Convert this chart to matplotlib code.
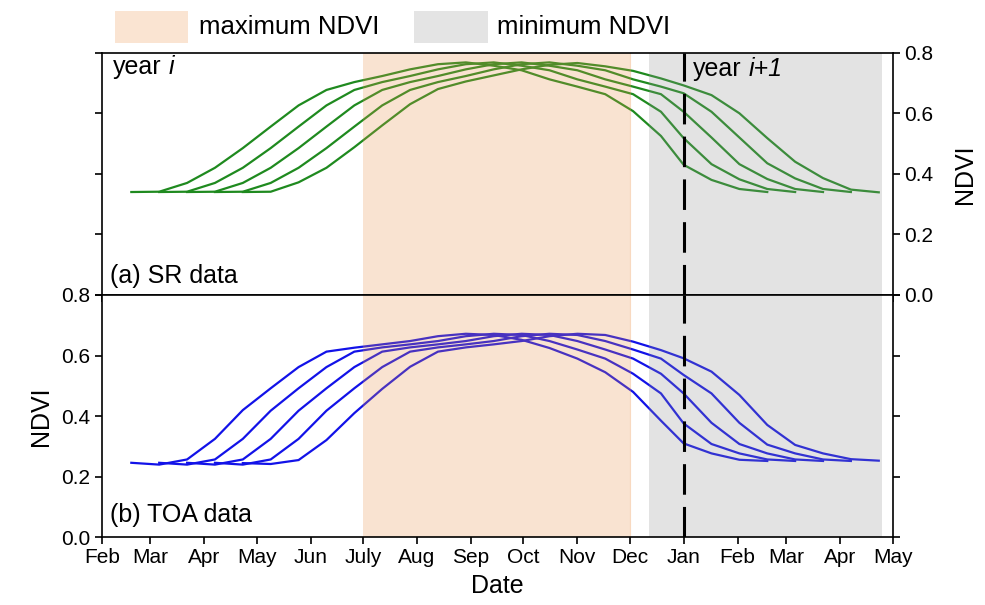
import datetime as dt
import matplotlib
matplotlib.use("Agg")
import matplotlib.pyplot as plt
import matplotlib.dates as mdates
from matplotlib.patches import Rectangle

plt.rcParams['font.family'] = ['Liberation Sans', 'DejaVu Sans']

# ---------------- data ----------------
year_i = 2001
# 16-day composite days of year (year i, then year i+1)
doy_year_i = [49, 65, 81, 97, 113, 129, 145, 161, 177, 193, 209, 225,
              241, 257, 273, 289, 305, 321, 337, 353]
doy_year_i1 = [1, 17, 33, 49, 65, 81, 97, 113]

# index of the first composite of each curve
curve_start = [0, 1, 2, 3, 4]

sr_curve_1 = [0.340, 0.341, 0.370, 0.420, 0.485, 0.556, 0.626, 0.677, 0.703, 0.723, 0.745, 0.762,
              0.768, 0.757, 0.742, 0.712, 0.688, 0.663, 0.607, 0.525, 0.430, 0.380, 0.350, 0.340]
sr_curve_2 = [0.340, 0.341, 0.370, 0.420, 0.485, 0.556, 0.626, 0.677, 0.703, 0.723, 0.745, 0.762,
              0.768, 0.757, 0.742, 0.712, 0.688, 0.663, 0.605, 0.518, 0.432, 0.382, 0.350, 0.340]
sr_curve_3 = [0.340, 0.341, 0.370, 0.420, 0.485, 0.556, 0.626, 0.677, 0.703, 0.723, 0.745, 0.762,
              0.768, 0.757, 0.742, 0.712, 0.688, 0.663, 0.605, 0.520, 0.432, 0.383, 0.350, 0.340]
sr_curve_4 = [0.340, 0.341, 0.370, 0.420, 0.485, 0.556, 0.626, 0.677, 0.703, 0.723, 0.745, 0.762,
              0.768, 0.757, 0.742, 0.712, 0.688, 0.666, 0.605, 0.520, 0.435, 0.385, 0.350, 0.340]
sr_curve_5 = [0.340, 0.341, 0.372, 0.420, 0.488, 0.560, 0.630, 0.680, 0.705, 0.725, 0.745, 0.760,
              0.766, 0.755, 0.740, 0.715, 0.692, 0.660, 0.600, 0.518, 0.440, 0.386, 0.348, 0.339]
sr_curves = [sr_curve_1, sr_curve_2, sr_curve_3, sr_curve_4, sr_curve_5]

toa_curve_1 = [0.246, 0.240, 0.257, 0.325, 0.420, 0.492, 0.562, 0.613, 0.626, 0.637, 0.648, 0.664,
               0.672, 0.668, 0.652, 0.625, 0.590, 0.545, 0.480, 0.385, 0.310, 0.277, 0.256, 0.252]
toa_curve_2 = [0.246, 0.240, 0.257, 0.325, 0.418, 0.492, 0.562, 0.613, 0.627, 0.637, 0.648, 0.664,
               0.672, 0.668, 0.648, 0.620, 0.590, 0.540, 0.475, 0.376, 0.308, 0.277, 0.257, 0.252]
toa_curve_3 = [0.246, 0.240, 0.257, 0.325, 0.418, 0.492, 0.562, 0.613, 0.627, 0.637, 0.648, 0.664,
               0.672, 0.668, 0.648, 0.620, 0.590, 0.540, 0.475, 0.378, 0.308, 0.277, 0.257, 0.252]
toa_curve_4 = [0.246, 0.240, 0.257, 0.325, 0.418, 0.492, 0.562, 0.613, 0.627, 0.637, 0.648, 0.664,
               0.672, 0.668, 0.648, 0.620, 0.590, 0.536, 0.475, 0.378, 0.306, 0.277, 0.257, 0.252]
toa_curve_5 = [0.245, 0.242, 0.255, 0.321, 0.410, 0.490, 0.563, 0.613, 0.627, 0.637, 0.648, 0.664,
               0.672, 0.668, 0.646, 0.618, 0.591, 0.547, 0.470, 0.371, 0.305, 0.277, 0.258, 0.253]
toa_curves = [toa_curve_1, toa_curve_2, toa_curve_3, toa_curve_4, toa_curve_5]

month_labels = ['Feb', 'Mar', 'Apr', 'May', 'Jun', 'July', 'Aug', 'Sep', 'Oct',
                'Nov', 'Dec', 'Jan', 'Feb', 'Mar', 'Apr', 'May']
max_ndvi_period = (dt.date(2001, 7, 1), dt.date(2001, 12, 1))
min_ndvi_period = (dt.date(2001, 12, 12), dt.date(2002, 4, 25))
year_boundary = dt.date(2002, 1, 1)
x_range = (dt.date(2001, 2, 1), dt.date(2002, 5, 1))
ndvi_ticks = [0.0, 0.2, 0.4, 0.6, 0.8]

# ---------------- derived ----------------
node_dates = ([dt.date(year_i, 1, 1) + dt.timedelta(days=d - 1) for d in doy_year_i] +
              [dt.date(year_i + 1, 1, 1) + dt.timedelta(days=d - 1) for d in doy_year_i1])
node_x = mdates.date2num(node_dates)

tick_dates = []
yy, mm = year_i, 2
for _ in month_labels:
    tick_dates.append(dt.date(yy, mm, 1))
    mm += 1
    if mm > 12:
        mm = 1
        yy += 1
tick_x = mdates.date2num(tick_dates)

GREEN = '#1f8a1f'
BLUE = '#1212e8'
ORANGE_OV = '#EB934B'
GRAY_OV = '#939393'
ALPHA = 0.25

W, H = 985, 605
fig = plt.figure(figsize=(W / 100, H / 100), dpi=100)

left = 101.7 / W
width = 791.0 / W
hgt = 242.3 / H
ax1 = fig.add_axes([left, 1 - 295.0 / H, width, hgt])
ax2 = fig.add_axes([left, 1 - 537.3 / H, width, hgt])

for ax, curves, col in ((ax1, sr_curves, GREEN), (ax2, toa_curves, BLUE)):
    for s, vals in zip(curve_start, curves):
        ax.plot(node_x[s:s + len(vals)], vals, color=col, lw=1.6, zorder=2,
                solid_joinstyle='miter')
    ax.axvspan(mdates.date2num(max_ndvi_period[0]), mdates.date2num(max_ndvi_period[1]),
               color=ORANGE_OV, alpha=ALPHA, lw=0, zorder=3)
    ax.axvline(mdates.date2num(max_ndvi_period[1]), color=ORANGE_OV, alpha=0.35, lw=0.8, zorder=3)
    ax.axvspan(mdates.date2num(min_ndvi_period[0]), mdates.date2num(min_ndvi_period[1]),
               color=GRAY_OV, alpha=ALPHA, lw=0, zorder=3)
    ax.axvline(mdates.date2num(year_boundary), color='black', lw=2.2,
               dashes=(10, 4), zorder=4)
    ax.set_xlim(mdates.date2num(x_range[0]), mdates.date2num(x_range[1]))
    ax.set_ylim(0, 0.8)
    ax.set_yticks(ndvi_ticks)
    ax.set_yticklabels([f'{v:.1f}' for v in ndvi_ticks])
    ax.set_xticks(tick_x)
    ax.set_xticklabels(month_labels)
    ax.tick_params(direction='out', length=5, width=1.2, labelsize=15, pad=3)
    for sp in ax.spines.values():
        sp.set_linewidth(1.2)
        sp.set_zorder(5)

ax1.tick_params(axis='y', left=True, right=True, labelleft=False, labelright=True)
ax1.tick_params(axis='x', bottom=True, top=False, labelbottom=False)
ax1.yaxis.set_label_position('right')
ax1.set_ylabel('NDVI', fontsize=18, labelpad=14)

ax2.tick_params(axis='y', left=True, right=True, labelleft=True, labelright=False)
ax2.tick_params(axis='x', bottom=True, top=False, labelbottom=True)
ax2.set_ylabel('NDVI', fontsize=18, labelpad=6)
ax2.set_xlabel('Date', fontsize=18, labelpad=5)

# panel annotations
t1 = ax1.text(0.0143, 0.893, 'year', transform=ax1.transAxes, fontsize=18, va='bottom')
ax1.annotate('i', xy=(1, 0), xycoords=t1, xytext=(5, 0), textcoords='offset points',
             fontsize=18, style='italic', va='bottom', ha='left')
t2 = ax1.text(0.7475, 0.885, 'year', transform=ax1.transAxes, fontsize=18, va='bottom')
ax1.annotate('i+1', xy=(1, 0), xycoords=t2, xytext=(5, 0), textcoords='offset points',
             fontsize=18, style='italic', va='bottom', ha='left')
ax1.text(0.0105, 0.05, '(a) SR data', transform=ax1.transAxes, fontsize=18, va='baseline')
ax2.text(0.0105, 0.063, '(b) TOA data', transform=ax2.transAxes, fontsize=18, va='baseline')

# legend
def add_legend_item(x0, x1, y0, y1, color, label, tx):
    fig.add_artist(Rectangle((x0 / W, 1 - y1 / H), (x1 - x0) / W, (y1 - y0) / H,
                             transform=fig.transFigure, facecolor=color, edgecolor='none'))
    fig.text(tx / W, 1 - (y0 + y1) / 2 / H, label, fontsize=18.5, va='center', ha='left')

add_legend_item(115, 188, 11, 43, '#FAE4D2', 'maximum NDVI', 199)
add_legend_item(414, 488, 11, 43, '#E4E4E4', 'minimum NDVI', 497)

fig.savefig('out.png', dpi=100)
